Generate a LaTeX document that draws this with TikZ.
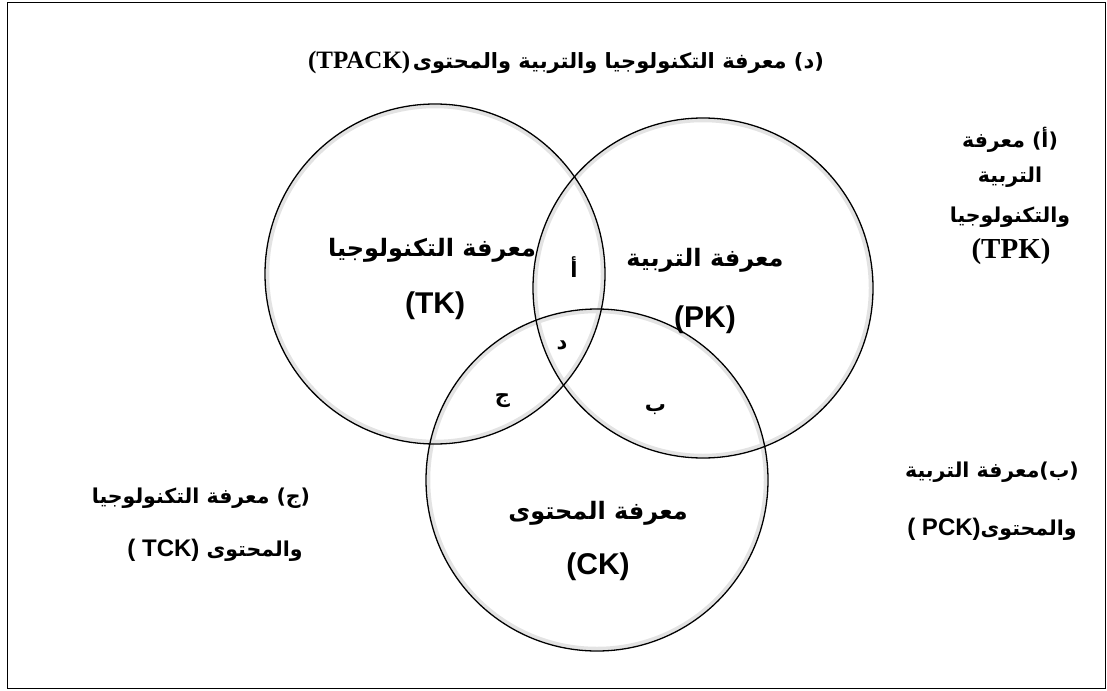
\documentclass[tikz,border=0pt]{standalone}
\usepackage{fontspec}
\setmainfont{Liberation Serif}
\newfontfamily\arf[Script=Arabic]{DejaVu Sans}
\newfontfamily\lsans{Liberation Sans}
\TeXXeTstate=1
\begin{document}
\begin{tikzpicture}[x=1pt,y=-1pt,
  venn/.style={circle, draw=black, line width=1.3pt, inner sep=0pt},
  glow/.style={draw=gray!22, line width=3.5pt},
  lblbox/.style={fill=white, inner sep=0pt, font=\arf\bfseries\fontsize{21}{21}\selectfont},
  artxt/.style={inner sep=0pt, font=\arf\bfseries\fontsize{24}{26}\selectfont},
  abbr/.style={inner sep=0pt, font=\lsans\bfseries\fontsize{30}{30}\selectfont},
  sidetxt/.style={inner sep=0pt, font=\arf\bfseries\fontsize{20.5}{20}\selectfont},
  serifb/.style={inner sep=0pt, font=\rmfamily\bfseries\fontsize{29}{29}\selectfont}
]
\useasboundingbox (0,0) rectangle (1107,690);
\draw[line width=1.8pt] (7.5,2.5) rectangle (1105.5,688.5);

% intersection label boxes (behind the circle outlines)
\node[lblbox, minimum width=48pt, minimum height=59pt] (lA) at (574,267.5) {أ};
\node[lblbox, minimum width=20pt, minimum height=40pt] (lD) at (562,345) {د};
\node[lblbox, minimum width=51pt, minimum height=63pt] (lJ) at (502.5,400.5) {ج};
\node[lblbox, minimum width=45pt, minimum height=52pt] (lB) at (655.5,410) {ب};

% glows
\draw[glow] (435,274) circle (167.5);
\draw[glow] (703,288) circle (167.5);
\draw[glow] (597,480) circle (168.5);
% circles
\node[venn, minimum size=340pt] (TK) at (435,274) {};
\node[venn, minimum size=340pt] (PK) at (703,288) {};
\node[venn, minimum size=342pt] (CK) at (597,480) {};

% circle texts
\node[artxt] (tkname) at (432,250) {\beginR معرفة التكنولوجيا\endR};
\node[abbr] (tkabbr) at (435,306) {(TK)};
\node[artxt] (pkname) at (705,260) {\beginR معرفة التربية\endR};
\node[abbr] (pkabbr) at (705,320) {(PK)};
\node[artxt] (ckname) at (598,513) {\beginR معرفة المحتوى\endR};
\node[abbr] (ckabbr) at (598,567) {(CK)};

% title
\node[inner sep=0pt] (title) at (566,62) {{\rmfamily\bfseries\fontsize{25}{25}\selectfont (TPACK)}\ {\arf\bfseries\fontsize{21}{21}\selectfont\beginR معرفة التكنولوجيا والتربية والمحتوى\endR\ (د)}};

% (a) TPK label
\node[sidetxt] (a1) at (1010,140) {\beginR معرفة\endR\ (أ)};
\node[sidetxt] (a2) at (1010,177) {\beginR التربية\endR};
\node[sidetxt] (a3) at (1010,217) {\beginR والتكنولوجيا\endR};
\node[serifb] (a4) at (1011,252) {(TPK)};

% (b) PCK label
\node[sidetxt] (b1) at (992,472) {\beginR معرفة التربية\endR(ب)};
\node[sidetxt] (b2) at (992,529) {{\lsans\fontsize{24}{24}\selectfont ( PCK)}\beginR والمحتوى\endR};

% (c) TCK label
\node[sidetxt] (c1) at (201,498) {\beginR معرفة التكنولوجيا\endR\ (ج)};
\node[sidetxt] (c2) at (215,550) {{\lsans\fontsize{24}{24}\selectfont ( TCK)}\ \beginR والمحتوى\endR};
\end{tikzpicture}
\end{document}
